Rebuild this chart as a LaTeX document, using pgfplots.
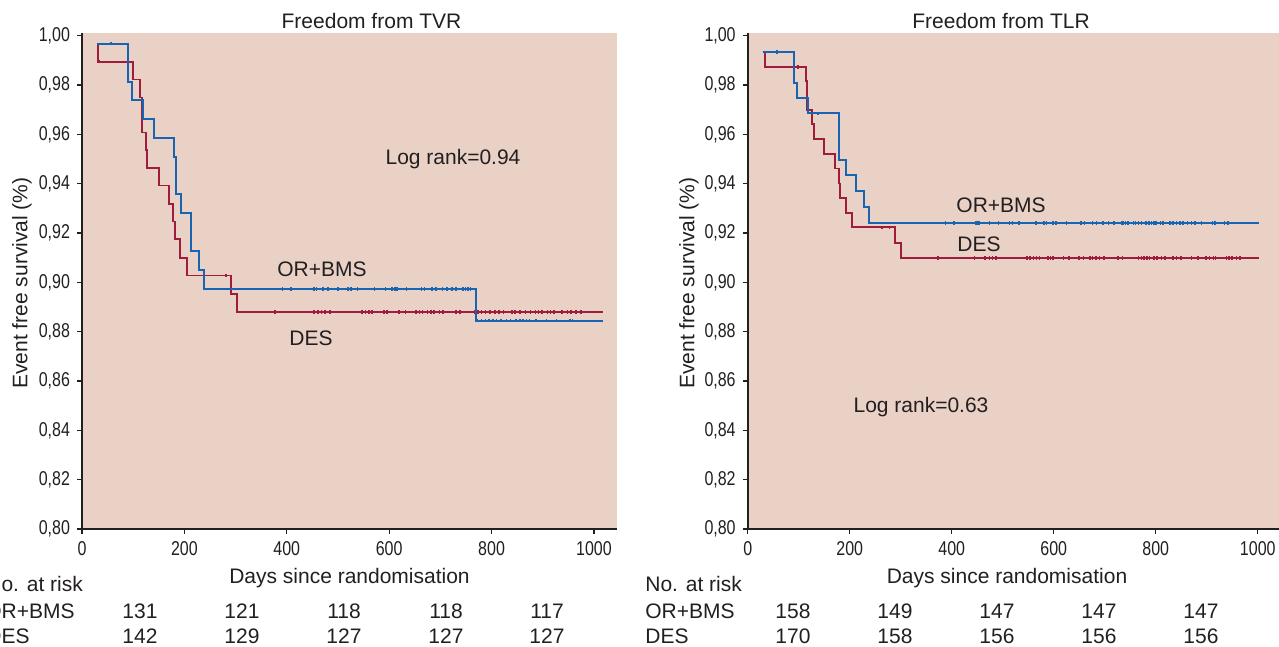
\documentclass[border=0pt]{standalone}
\usepackage{fontspec}
\setmainfont{Liberation Sans}
\usepackage{graphicx}
\usepackage{pgfplots}
\pgfplotsset{compat=1.18}

\definecolor{bgc}{RGB}{233,209,198}
\definecolor{kmblue}{RGB}{22,100,178}
\definecolor{kmred}{RGB}{160,28,60}
\definecolor{txt}{RGB}{35,31,32}

\newcommand{\lbl}{\fontsize{10.5}{12}\selectfont}

\pgfplotsset{
  kmaxis/.style={
    scale only axis, height=247.85pt,
    xmin=0, ymin=0.80, ymax=1.001,
    axis lines*=left,
    axis line style={-, line width=1pt, draw=txt},
    axis background/.style={fill=bgc},
    tick align=outside, major tick length=2.5pt,
    tick style={draw=txt, line width=0.6pt},
    xtick={0,200,400,600,800,1000},
    ytick={0.80,0.82,0.84,0.86,0.88,0.90,0.92,0.94,0.96,0.98,1.00},
    ticklabel style={font=\fontsize{10}{11}\selectfont, text=txt},
    xticklabel={\scalebox{0.8}[1]{\pgfmathprintnumber[assume math mode=true,1000 sep={}]{\tick}}},
    yticklabel={\scalebox{0.8}[1]{\pgfmathprintnumber[fixed,fixed zerofill,precision=2,use comma,assume math mode=true]{\tick}}},
  },
  blueline/.style={const plot, kmblue, line width=1pt, no marks},
  redline/.style={const plot, kmred, line width=0.9pt, no marks},
  bluecens/.style={only marks, mark=|, mark size=0.9pt, kmblue, mark options={line width=0.8pt}},
  redcens/.style={only marks, mark=|, mark size=0.9pt, kmred, mark options={line width=0.8pt}},
}

\begin{document}
\begin{tikzpicture}
\useasboundingbox (0,0) rectangle (639.5pt,-323.5pt);
\clip (0,0) rectangle (639.5pt,-323.5pt);

% Freedom from TVR
\begin{axis}[kmaxis, at={(41pt,-264.5pt)}, anchor=south west, width=267.5pt, xmax=1045]
\addplot[redline] coordinates {
  (28.6,0.9968) (30.6,0.9895) (99,0.9823) (113.3,0.9750) (117.2,0.9608)
  (124.3,0.9536) (127.6,0.9465) (149.7,0.9393) (170.6,0.9318) (178.4,0.9247)
  (181,0.9175) (192,0.9099) (204.4,0.9028) (290.4,0.8953) (302,0.8880) (1018,0.8880)
};
\addplot[redcens] coordinates {
  (34,0.9895) (281,0.9028)
  (377,0.888) (453,0.888) (461,0.888) (468,0.888) (475,0.888) (484,0.888)
  (547,0.888) (554,0.888) (560,0.888) (567,0.888) (590,0.888) (596,0.888)
  (619,0.888) (632,0.888) (652,0.888) (659,0.888) (665,0.888) (675,0.888)
  (682,0.888) (688,0.888) (698,0.888) (705,0.888) (731,0.888) (738,0.888)
  (767,0.888) (774,0.888) (780,0.888) (788,0.888) (797,0.888) (807,0.888)
  (815,0.888) (823,0.888) (840,0.888) (846,0.888) (856,0.888) (866,0.888)
  (876,0.888) (886,0.888) (892,0.888) (899,0.888) (909,0.888) (915,0.888)
  (922,0.888) (938,0.888) (948,0.888) (955,0.888) (965,0.888) (975,0.888)
};
\addplot[blueline] coordinates {
  (28.6,0.9968) (89.2,0.9813) (97,0.9739) (118.5,0.9662) (140.6,0.9586)
  (179.7,0.9509) (183,0.9357) (192.6,0.9283) (212,0.9127) (228.5,0.9052)
  (238,0.8973) (769,0.8845) (1018,0.8845)
};
\addplot[bluecens] coordinates {
  (57,0.9968)
  (392,0.8973) (408,0.8973) (453,0.8973) (458,0.8973) (471,0.8973) (481,0.8973)
  (500,0.8973) (519,0.8973) (525,0.8973) (538,0.8973) (571,0.8973) (593,0.8973)
  (606,0.8973) (611,0.8973) (615,0.8973) (634,0.8973) (663,0.8973) (669,0.8973)
  (684,0.8973) (692,0.8973) (704,0.8973) (713,0.8973) (723,0.8973) (731,0.8973)
  (744,0.8973) (749,0.8973) (754,0.8973) (759,0.8973)
  (772,0.8845) (780,0.8845) (788,0.8845) (795,0.8845) (803,0.8845) (810,0.8845)
  (818,0.8845) (829,0.8845) (837,0.8845) (848,0.8845) (855,0.8845) (861,0.8845)
  (868,0.8845) (874,0.8845) (887,0.8845) (907,0.8845) (927,0.8845) (953,0.8845)
  (958,0.8845)
};
\end{axis}

% Freedom from TLR
\begin{axis}[kmaxis, at={(373.85pt,-264.5pt)}, anchor=south west, width=266.5pt, xmax=1045]
\addplot[redline] coordinates {
  (29.3,0.9935) (34.5,0.9874) (113.6,0.9817) (116.2,0.9699) (126.6,0.9641)
  (129.2,0.9580) (149.6,0.9520) (170.5,0.9462) (178.3,0.9401) (180.9,0.9342)
  (192,0.9282) (203.7,0.9223) (288.5,0.9160) (300.3,0.9099) (1002,0.9099)
};
\addplot[redcens] coordinates {
  (99,0.9874) (263,0.9223) (278,0.9223)
  (373,0.9099) (445,0.9099) (465,0.9099) (474,0.9099) (480,0.9099) (487,0.9099)
  (547,0.9099) (553,0.9099) (560,0.9099) (566,0.9099) (572,0.9099) (589,0.9099)
  (594,0.9099) (599,0.9099) (619,0.9099) (630,0.9099) (650,0.9099) (658,0.9099)
  (671,0.9099) (676,0.9099) (683,0.9099) (690,0.9099) (698,0.9099) (726,0.9099)
  (735,0.9099) (766,0.9099) (772,0.9099) (777,0.9099) (783,0.9099) (788,0.9099)
  (796,0.9099) (803,0.9099) (811,0.9099) (818,0.9099) (834,0.9099) (841,0.9099)
  (850,0.9099) (870,0.9099) (883,0.9099) (899,0.9099) (905,0.9099) (913,0.9099)
  (917,0.9099) (939,0.9099) (944,0.9099) (950,0.9099) (958,0.9099) (965,0.9099)
};
\addplot[blueline] coordinates {
  (29.3,0.9935) (90.9,0.9809) (97.4,0.9747) (117.8,0.9685) (179.8,0.9496)
  (193.5,0.9435) (213,0.9371) (227.5,0.9305) (238.7,0.9241) (1002,0.9241)
};
\addplot[bluecens] coordinates {
  (58,0.9935) (138,0.9685)
  (388,0.9241) (404,0.9241) (447,0.9241) (450,0.9241) (454,0.9241) (474,0.9241)
  (492,0.9241) (513,0.9241) (519,0.9241) (532,0.9241) (565,0.9241) (581,0.9241)
  (586,0.9241) (599,0.9241) (605,0.9241) (625,0.9241) (653,0.9241) (660,0.9241)
  (676,0.9241) (684,0.9241) (696,0.9241) (707,0.9241) (718,0.9241) (733,0.9241)
  (736,0.9241) (741,0.9241) (746,0.9241) (756,0.9241) (760,0.9241) (766,0.9241)
  (772,0.9241) (781,0.9241) (787,0.9241) (792,0.9241) (796,0.9241) (801,0.9241)
  (809,0.9241) (814,0.9241) (828,0.9241) (834,0.9241) (841,0.9241) (847,0.9241)
  (854,0.9241) (862,0.9241) (870,0.9241) (877,0.9241) (890,0.9241) (911,0.9241)
  (916,0.9241) (935,0.9241) (942,0.9241)
};
\end{axis}

% text, placed in image pixels
\begin{scope}[x=0.5pt, y=-0.5pt, every node/.style={text=txt, inner sep=0pt, font=\lbl}]
  \node[anchor=base] at (371.5,28.6) {Freedom from TVR};
  \node[anchor=base] at (1001,28.6) {Freedom from TLR};
  \node[rotate=90] at (22,283) {Event free survival (\%)};
  \node[rotate=90] at (689,283) {Event free survival (\%)};
  \node[anchor=base] at (349.5,583) {Days since randomisation};
  \node[anchor=base] at (1007,583) {Days since randomisation};
  \node[anchor=base] at (453,164) {Log rank=0.94};
  \node[anchor=base] at (921,412) {Log rank=0.63};
  \node[anchor=base west] at (277,276) {OR+BMS};
  \node[anchor=base west] at (289,345) {DES};
  \node[anchor=base west] at (956,212.7) {OR+BMS};
  \node[anchor=base west] at (957,251) {DES};
  % numbers at risk (left block is cut by the picture's edge, as in the source)
  \node[anchor=base west] at (-14,591.7) {No. at risk};
  \node[anchor=base west] at (-15,618) {OR+BMS};
  \node[anchor=base west] at (-14,643) {DES};
  \node[anchor=base west] at (645,591.7) {No. at risk};
  \node[anchor=base west] at (645,618) {OR+BMS};
  \node[anchor=base west] at (645,643) {DES};
  \foreach \xx/\a/\b in {140/131/142, 242/121/129, 344/118/127, 446/118/127, 547/117/127}{
    \node[anchor=base] at (\xx,618) {\a};
    \node[anchor=base] at (\xx,643) {\b};
  }
  \foreach \xx/\a/\b in {793/158/170, 895/149/158, 997/147/156, 1099/147/156, 1201/147/156}{
    \node[anchor=base] at (\xx,618) {\a};
    \node[anchor=base] at (\xx,643) {\b};
  }
\end{scope}
\end{tikzpicture}
\end{document}
